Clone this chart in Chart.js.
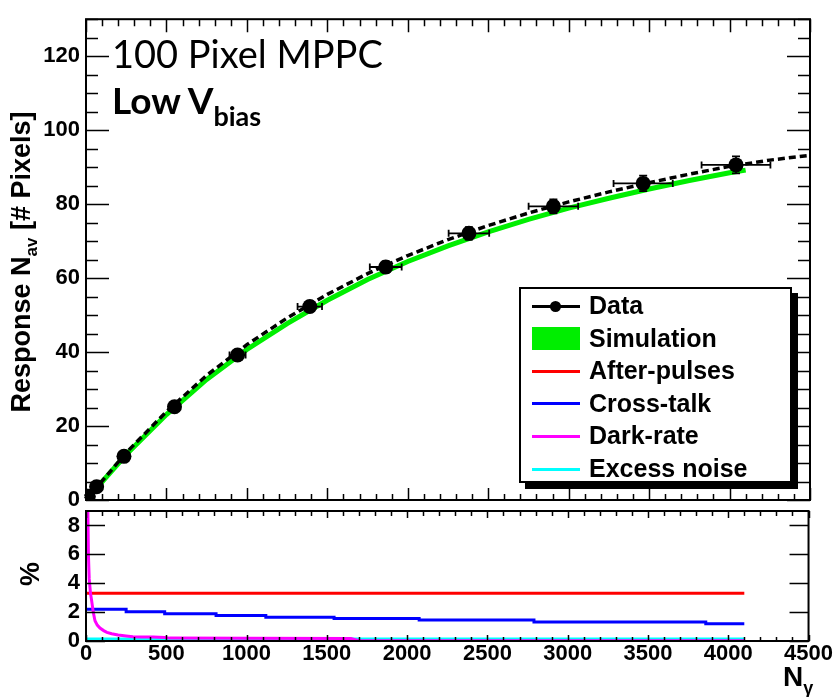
<!DOCTYPE html>
<html>
<head>
<meta charset="utf-8">
<script src="https://cdn.jsdelivr.net/npm/chart.js@4/dist/chart.umd.min.js"></script>
<style>
  body { margin: 0; background: #fff; }
  #wrap { position: relative; width: 833px; height: 697px; overflow: hidden; }
  canvas { position: absolute; left: 0; top: 0; }
  .txt { position: absolute; white-space: nowrap; color: #000; line-height: 1; }
  .bold { font-family: "Liberation Sans", Arial, sans-serif; font-weight: bold; }
  #legend { position: absolute; left: 519px; top: 287px; width: 269px; height: 192px;
            border: 2px solid #000; background: #fff; box-shadow: 6px 6px 0 #000; }
  .row { position: absolute; left: 0; height: 32px; width: 100%; }
  .sym { position: absolute; left: 11px; width: 48px; top: 50%; }
  .lab { position: absolute; left: 68px; top: 50%; transform: translateY(-52%);
         font: bold 25px "Liberation Sans", Arial, sans-serif; }
</style>
</head>
<body>
<div id="wrap">
  <canvas id="lower" width="833" height="697"></canvas>
  <canvas id="upper" width="833" height="697"></canvas>

  <div class="txt" style="left:112px; top:30px; font:38px Lato, sans-serif;">100 Pixel MPPC</div>
  <div class="txt" style="left:112px; top:77px; font:bold 37px Lato, sans-serif;">Low V<sub style="font-size:27px; vertical-align:-12px;">bias</sub></div>

  <div class="txt bold" style="left:24px; top:262px; font-size:27px; transform:translate(-50%,-50%) rotate(-90deg);">Response N<sub style="font-size:17px; vertical-align:-7px;">av</sub> [# Pixels]</div>
  <div class="txt bold" style="left:30px; top:574px; font-size:27px; transform:translate(-50%,-50%) rotate(-90deg);">%</div>
  <div class="txt bold" style="left:783px; top:663px; font-size:28px;">N<sub style="font-size:18px; vertical-align:-8px;">γ</sub></div>

  <div id="legend"></div>
</div>
<script>
// ---- measured response ----
const dataX = [14, 66, 236, 550, 942, 1391, 1863, 2380, 2905, 3463, 4040];
const dataY = [1.0, 3.6, 11.8, 25.2, 39.2, 52.3, 63.0, 72.1, 79.4, 85.6, 90.6];
const dataXErr = [1, 4, 13, 29, 50, 76, 99, 126, 154, 184, 214];
const dataYErr = [0.3, 0.4, 0.6, 0.9, 1.1, 1.3, 1.5, 1.7, 1.9, 2.1, 2.3];

// ---- fit (dashed) and simulation band ----
const fitX = [0, 250, 500, 750, 1000, 1250, 1500, 1750, 2000, 2250, 2500, 2750, 3000, 3250, 3500, 3750, 4000, 4250, 4500];
const fitY = [0, 12.8, 23.9, 33.7, 42.0, 49.2, 55.6, 61.2, 66.1, 70.4, 74.2, 77.6, 80.6, 83.3, 85.8, 88.1, 90.2, 91.9, 93.2];
const simX = [0, 250, 500, 750, 1000, 1250, 1500, 1750, 2000, 2250, 2500, 2750, 3000, 3250, 3500, 3750, 4000, 4100];
const simY = [0, 12.3, 23.1, 32.6, 40.7, 47.7, 54.0, 59.6, 64.5, 68.7, 72.5, 75.9, 78.9, 81.6, 84.1, 86.4, 88.5, 89.2];

// ---- noise contributions [%] ----
const afterX = [0, 4100];
const afterY = [3.3, 3.3];
const crossX = [0, 250, 490, 810, 1120, 1545, 2075, 2790, 3860, 4100];
const crossY = [2.2, 2.02, 1.88, 1.76, 1.64, 1.55, 1.45, 1.32, 1.2, 1.2];
const darkX = [8, 15, 20, 28, 35, 45, 56, 70, 87, 110, 130, 160, 200, 250, 292, 350, 420, 490, 520, 1000, 1650, 1700, 4100];
const darkY = [12, 6.0, 4.3, 3.3, 2.8, 2.0, 1.4, 1.1, 0.9, 0.72, 0.6, 0.5, 0.42, 0.35, 0.3, 0.28, 0.27, 0.25, 0.2, 0.19, 0.18, 0.02, 0.02];
const excessX = [0, 4100];
const excessY = [0.1, 0.1];

// ---- axes ----
const xTicks = [0, 500, 1000, 1500, 2000, 2500, 3000, 3500, 4000, 4500];
const upperYTicks = [0, 20, 40, 60, 80, 100, 120];
const lowerYTicks = [0, 2, 4, 6, 8];

const legendItems = ["Data", "Simulation", "After-pulses", "Cross-talk", "Dark-rate", "Excess noise"];
const legendColors = ["#000", "#00ee00", "#ff0000", "#0000ff", "#ff00ff", "#00ffff"];

Chart.defaults.font.family = '"Liberation Sans", Arial, sans-serif';
Chart.defaults.color = "#000";

const W = 833, H = 697;
const PLOT_LEFT = 86, PLOT_RIGHT = 810;

function pts(xs, ys) {
    return xs.map((x, i) => ({ x: x, y: ys[i] }));
}

// ROOT style frame with inward ticks on all four sides
function framePlugin(cfg) {
    return {
        id: "frame",
        afterDatasetsDraw(chart) {
            const { ctx, chartArea: a, scales } = chart;
            const xs = scales.x, ys = scales.y;
            ctx.save();
            ctx.strokeStyle = "#000";
            ctx.lineWidth = 1.5;
            ctx.beginPath();
            for (let v = xs.min; v <= xs.max + 1e-6; v += cfg.xMinor) {
                const px = Math.round(xs.getPixelForValue(v)) + 0.5;
                const major = Math.abs(v % cfg.xMajor) < 1e-6;
                const lb = major ? cfg.xLenBottom[0] : cfg.xLenBottom[1];
                const lt = major ? cfg.xLenTop[0] : cfg.xLenTop[1];
                ctx.moveTo(px, a.bottom); ctx.lineTo(px, a.bottom - lb);
                ctx.moveTo(px, a.top); ctx.lineTo(px, a.top + lt);
            }
            for (let v = ys.min; v <= ys.max + 1e-6; v += cfg.yMinor) {
                const py = Math.round(ys.getPixelForValue(v)) + 0.5;
                const major = Math.abs(v % cfg.yMajor) < 1e-6;
                const l = major ? cfg.yLen[0] : cfg.yLen[1];
                if (l <= 0) continue;
                ctx.moveTo(a.left, py); ctx.lineTo(a.left + l, py);
                ctx.moveTo(a.right, py); ctx.lineTo(a.right - l, py);
            }
            ctx.stroke();
            ctx.lineWidth = 2;
            ctx.strokeRect(a.left, a.top, a.right - a.left, a.bottom - a.top);
            ctx.restore();
        }
    };
}

// horizontal and vertical error bars, painted over the curves but under the markers
const errorBars = {
    id: "errorBars",
    afterDatasetDraw(chart, args) {
        if (args.index !== 1) return;
        const { ctx, scales } = chart;
        const xs = scales.x, ys = scales.y;
        ctx.save();
        ctx.strokeStyle = "#000";
        ctx.lineWidth = 1.8;
        ctx.beginPath();
        dataX.forEach((x, i) => {
            const y = dataY[i];
            const py = ys.getPixelForValue(y);
            const x0 = xs.getPixelForValue(x - dataXErr[i]);
            const x1 = xs.getPixelForValue(x + dataXErr[i]);
            ctx.moveTo(x0, py); ctx.lineTo(x1, py);
            ctx.moveTo(x0, py - 3.5); ctx.lineTo(x0, py + 3.5);
            ctx.moveTo(x1, py - 3.5); ctx.lineTo(x1, py + 3.5);
            const px = xs.getPixelForValue(x);
            const y0 = ys.getPixelForValue(y - dataYErr[i]);
            const y1 = ys.getPixelForValue(y + dataYErr[i]);
            ctx.moveTo(px, y0); ctx.lineTo(px, y1);
            ctx.moveTo(px - 4, y0); ctx.lineTo(px + 4, y0);
            ctx.moveTo(px - 4, y1); ctx.lineTo(px + 4, y1);
        });
        ctx.stroke();
        ctx.restore();
    }
};

function fixedLeft(width) {
    return (scale) => { scale.width = width; };
}
function fixedHeight(height) {
    return (scale) => { scale.height = height; };
}
function useTicks(values) {
    return (scale) => { scale.ticks = values.map((v) => ({ value: v })); };
}
const plainLabel = (v) => String(v);

const tickFont = () => ({ size: 22, weight: "bold", family: '"Liberation Sans", Arial, sans-serif' });

// ---------------- upper panel ----------------
// datasets listed top-most first (Chart.js paints index 0 last)
new Chart(document.getElementById("upper"), {
    type: "scatter",
    data: {
        datasets: [
            {
                label: "Data",
                data: pts(dataX, dataY),
                pointRadius: 7.5,
                pointBackgroundColor: "#000",
                pointBorderColor: "#000",
                pointBorderWidth: 0,
            },
            {
                label: "Fit",
                data: pts(fitX, fitY),
                showLine: true,
                borderColor: "#000",
                borderWidth: 3.5,
                borderDash: [7, 4],
                pointRadius: 0,
            },
            {
                label: "Simulation",
                data: pts(simX, simY),
                showLine: true,
                borderColor: "#00ee00",
                borderWidth: 5,
                pointRadius: 0,
            },
        ],
    },
    options: {
        responsive: false,
        animation: false,
        events: [],
        layout: { padding: { left: 0, top: 8, right: W - PLOT_RIGHT, bottom: 0 } },
        plugins: { legend: { display: false }, tooltip: { enabled: false } },
        scales: {
            x: {
                type: "linear", min: 0, max: 4500,
                grid: { display: false, drawTicks: false },
                border: { display: false },
                ticks: { display: false },
                afterFit: fixedHeight(H - 500),
            },
            y: {
                type: "linear", min: 0, max: 130,
                grid: { display: false, drawTicks: false },
                border: { display: false },
                ticks: { font: tickFont(), padding: 6, callback: plainLabel },
                afterBuildTicks: useTicks(upperYTicks),
                afterFit: fixedLeft(PLOT_LEFT),
            },
        },
    },
    plugins: [
        framePlugin({ xMinor: 100, xMajor: 500, xLenBottom: [12, 6], xLenTop: [13, 7], yMinor: 5, yMajor: 20, yLen: [23, 12] }),
        errorBars,
    ],
});

// ---------------- lower panel ----------------
function noiseLine(label, xs, ys, color, width, stepped) {
    return {
        label: label,
        data: pts(xs, ys),
        showLine: true,
        borderColor: color,
        borderWidth: width,
        pointRadius: 0,
        stepped: stepped || false,
    };
}

new Chart(document.getElementById("lower"), {
    type: "scatter",
    data: {
        datasets: [
            noiseLine("Dark-rate", darkX, darkY, "#ff00ff", 3),
            noiseLine("Excess noise", excessX, excessY, "#00ffff", 4),
            noiseLine("Cross-talk", crossX, crossY, "#0000ff", 3, true),
            noiseLine("After-pulses", afterX, afterY, "#ff0000", 3),
        ],
    },
    options: {
        responsive: false,
        animation: false,
        events: [],
        layout: { padding: { left: 0, top: 511, right: W - PLOT_RIGHT, bottom: 0 } },
        plugins: { legend: { display: false }, tooltip: { enabled: false } },
        scales: {
            x: {
                type: "linear", min: 0, max: 4500,
                grid: { display: false, drawTicks: false },
                border: { display: false },
                ticks: { font: tickFont(), padding: 0, maxRotation: 0, callback: plainLabel },
                afterBuildTicks: useTicks(xTicks),
                afterFit: fixedHeight(H - 641),
            },
            y: {
                type: "linear", min: 0, max: 9,
                grid: { display: false, drawTicks: false },
                border: { display: false },
                ticks: { font: tickFont(), padding: 6, callback: plainLabel },
                afterBuildTicks: useTicks(lowerYTicks),
                afterFit: fixedLeft(PLOT_LEFT),
            },
        },
    },
    plugins: [
        framePlugin({ xMinor: 100, xMajor: 500, xLenBottom: [6, 4], xLenTop: [7, 5], yMinor: 2, yMajor: 2, yLen: [19, 0] }),
    ],
});

// ---------------- legend box ----------------
const legend = document.getElementById("legend");
legendItems.forEach((name, i) => {
    const row = document.createElement("div");
    row.className = "row";
    row.style.top = (1 + i * 32.6) + "px";
    let sym;
    if (i === 0) {
        sym = `<div class="sym" style="height:3px; margin-top:-1.5px; background:#000;"></div>
               <div class="sym" style="left:29px; width:11px; height:11px; margin-top:-5.5px; border-radius:50%; background:#000;"></div>`;
    } else if (i === 1) {
        sym = `<div class="sym" style="height:23px; margin-top:-12px; background:${legendColors[i]};"></div>`;
    } else {
        sym = `<div class="sym" style="height:3px; margin-top:-1.5px; background:${legendColors[i]};"></div>`;
    }
    row.innerHTML = sym + `<div class="lab">${name}</div>`;
    legend.appendChild(row);
});
</script>
</body>
</html>
